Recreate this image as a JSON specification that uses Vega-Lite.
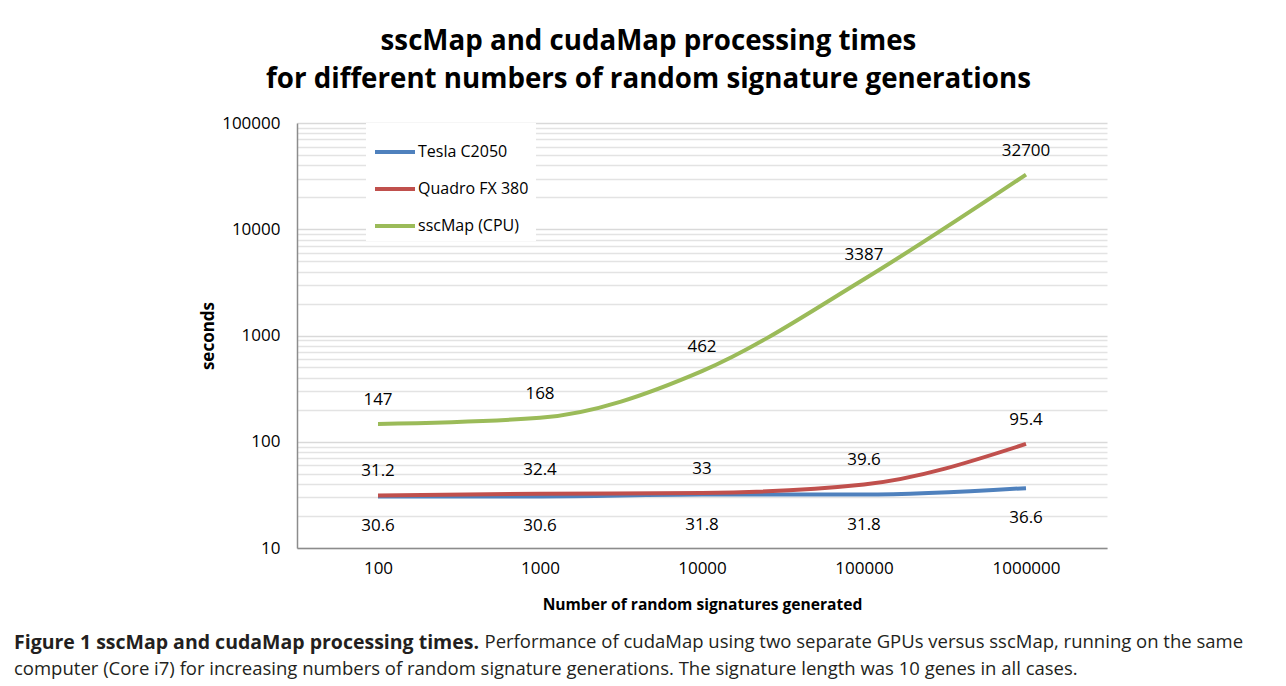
{
  "$schema": "https://vega.github.io/schema/vega-lite/v6.json",
  "width": 810,
  "height": 425,
  "autosize": {"type": "none"},
  "padding": {"left": 297, "top": 123, "right": 179, "bottom": 138},
  "background": "white",
  "title": {
    "text": "Figure 1 sscMap and cudaMap processing times.",
    "subtitle": "computer (Core i7) for increasing numbers of random signature generations. The signature length was 10 genes in all cases.",
    "orient": "bottom",
    "anchor": "start",
    "frame": "group",
    "dx": -283,
    "offset": -17,
    "font": "Open Sans",
    "fontSize": 19.5,
    "fontWeight": "bold",
    "color": "#231f20",
    "subtitleFont": "Open Sans",
    "subtitleFontSize": 18.5,
    "subtitleFontWeight": "normal",
    "subtitleColor": "#231f20",
    "subtitlePadding": 7
  },
  "data": {
    "values": [
      {"n": "100", "series": "Tesla C2050", "seconds": 30.6},
      {"n": "1000", "series": "Tesla C2050", "seconds": 30.6},
      {"n": "10000", "series": "Tesla C2050", "seconds": 31.8},
      {"n": "100000", "series": "Tesla C2050", "seconds": 31.8},
      {"n": "1000000", "series": "Tesla C2050", "seconds": 36.6},
      {"n": "100", "series": "Quadro FX 380", "seconds": 31.2},
      {"n": "1000", "series": "Quadro FX 380", "seconds": 32.4},
      {"n": "10000", "series": "Quadro FX 380", "seconds": 33},
      {"n": "100000", "series": "Quadro FX 380", "seconds": 39.6},
      {"n": "1000000", "series": "Quadro FX 380", "seconds": 95.4},
      {"n": "100", "series": "sscMap (CPU)", "seconds": 147},
      {"n": "1000", "series": "sscMap (CPU)", "seconds": 168},
      {"n": "10000", "series": "sscMap (CPU)", "seconds": 462},
      {"n": "100000", "series": "sscMap (CPU)", "seconds": 3387},
      {"n": "1000000", "series": "sscMap (CPU)", "seconds": 32700}
    ]
  },
  "resolve": {"axis": {"x": "independent", "y": "independent"}},
  "layer": [
    {
      "mark": {"type": "line", "strokeWidth": 4, "interpolate": "monotone", "strokeCap": "butt"},
      "encoding": {
        "x": {
          "field": "n", "type": "ordinal",
          "scale": {"domain": ["100", "1000", "10000", "100000", "1000000"], "padding": 0.5},
          "axis": {
            "orient": "bottom",
            "title": "Number of random signatures generated",
            "titleFont": "Open Sans", "titleFontSize": 15.6, "titleFontWeight": "bold", "titleColor": "black",
            "titleY": 56, "titleBaseline": "middle",
            "labelAngle": 0, "labelFont": "Open Sans", "labelFontSize": 17, "labelColor": "black",
            "labelPadding": 20, "labelBaseline": "middle",
            "ticks": false, "tickSize": 0, "grid": false,
            "domainColor": "#8c8c8c", "domainWidth": 1.5
          }
        },
        "y": {
          "field": "seconds", "type": "quantitative",
          "scale": {"type": "log", "domain": [10, 100000], "nice": false},
          "axis": {
            "orient": "left",
            "values": [10, 100, 1000, 10000, 100000],
            "format": "d",
            "title": "seconds",
            "titleFont": "Open Sans", "titleFontSize": 17, "titleFontWeight": "bold", "titleColor": "black",
            "titleX": -89, "titleY": 212.5, "titleBaseline": "middle", "titleAlign": "center", "titleAngle": -90,
            "labelFont": "Open Sans", "labelFontSize": 17, "labelColor": "black", "labelPadding": 17,
            "ticks": false, "tickSize": 0,
            "grid": true, "gridColor": "#d9d9d9", "gridWidth": 1.5,
            "domainColor": "#8c8c8c", "domainWidth": 1.5
          }
        },
        "color": {
          "field": "series", "type": "nominal",
          "scale": {"domain": ["Tesla C2050", "Quadro FX 380", "sscMap (CPU)"], "range": ["#4F81BD", "#C0504D", "#9BBB59"]},
          "legend": {
            "title": null,
            "orient": "none",
            "legendX": 69,
            "legendY": 0,
            "fillColor": "white",
            "padding": 7,
            "symbolType": "stroke",
            "symbolStrokeWidth": 4,
            "symbolSize": 1600,
            "labelFont": "Open Sans",
            "labelFontSize": 16,
            "labelColor": "black",
            "labelOffset": 1,
            "rowPadding": 7
          }
        }
      }
    },
    {
      "transform": [{"filter": "datum.series !== 'Tesla C2050'"}],
      "mark": {"type": "text", "dy": -24, "baseline": "middle", "font": "Open Sans", "fontSize": 17, "color": "black"},
      "encoding": {
        "x": {
          "field": "n", "type": "ordinal",
          "axis": {
            "orient": "top",
            "title": ["sscMap and cudaMap processing times", "for different numbers of random signature generations"],
            "titleFont": "Open Sans", "titleFontSize": 27.7, "titleFontWeight": "bold", "titleColor": "black",
            "titleLineHeight": 38,
            "titleX": 351, "titleY": -82, "titleBaseline": "middle", "titleAlign": "center", "titleAngle": 0,
            "labels": false, "ticks": false, "domain": false, "grid": false
          }
        },
        "y": {
          "field": "seconds", "type": "quantitative",
          "axis": {
            "orient": "right",
            "values": [20, 30, 40, 50, 60, 70, 80, 90, 200, 300, 400, 500, 600, 700, 800, 900, 2000, 3000, 4000, 5000, 6000, 7000, 8000, 9000, 20000, 30000, 40000, 50000, 60000, 70000, 80000, 90000],
            "title": "Performance of cudaMap using two separate GPUs versus sscMap, running on the same",
            "titleFont": "Open Sans", "titleFontSize": 18.5, "titleFontWeight": "normal", "titleColor": "#231f20",
            "titleX": -623, "titleY": 524, "titleBaseline": "alphabetic", "titleAlign": "left", "titleAngle": 0,
            "labels": false, "ticks": false, "domain": false,
            "grid": true, "gridColor": "#e3e3e3", "gridWidth": 1.5
          }
        },
        "text": {"field": "seconds", "type": "nominal"}
      }
    },
    {
      "transform": [{"filter": "datum.series === 'Tesla C2050'"}],
      "mark": {"type": "text", "dy": 30, "baseline": "middle", "font": "Open Sans", "fontSize": 17, "color": "black"},
      "encoding": {
        "x": {"field": "n", "type": "ordinal", "axis": null},
        "y": {"field": "seconds", "type": "quantitative", "axis": null},
        "text": {"field": "seconds", "type": "nominal"}
      }
    }
  ],
  "config": {
    "view": {"stroke": null}
  }
}
